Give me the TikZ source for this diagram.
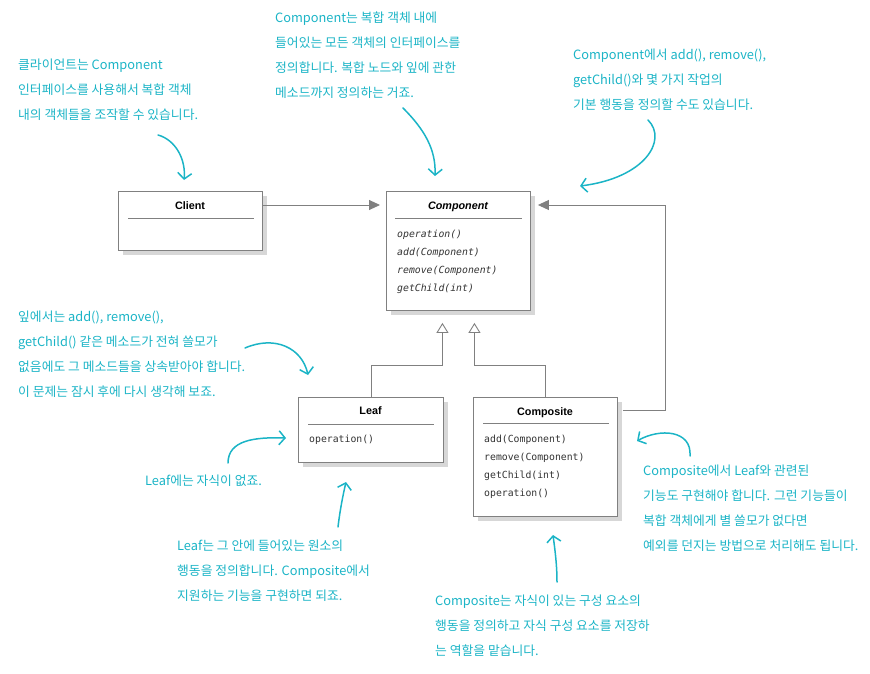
\documentclass[tikz,border=0pt]{standalone}
\usepackage{fontspec}
\newfontfamily\krfont{Noto Sans CJK KR}
\newfontfamily\umlsans{Liberation Sans}
\newfontfamily\umlmono{DejaVu Sans Mono}
\usetikzlibrary{arrows.meta,calc,shadows}
\definecolor{teal1}{RGB}{27,180,198}
\definecolor{umlgray}{RGB}{128,128,128}
\definecolor{shadowgray}{RGB}{215,215,215}
\begin{document}
\begin{tikzpicture}[x=1pt,y=-1pt,
  umlbox/.style={draw=umlgray, line width=0.9pt, fill=white, anchor=north west, inner sep=0pt,
     general shadow={fill=shadowgray, shadow xshift=5pt, shadow yshift=-5pt}},
  umltitle/.style={anchor=base, inner sep=0pt, font=\umlsans\bfseries\fontsize{10.8}{13}\selectfont},
  methods/.style={anchor=base west, inner sep=0pt, align=left, text=black!80, font=\umlmono\fontsize{9.8}{18}\selectfont},
  sep/.style={draw=umlgray, line width=0.8pt},
  note/.style={anchor=base west, inner sep=0pt, align=left, text=teal1, font=\krfont\fontsize{12.8}{25}\selectfont},
  notearrow/.style={draw=teal1, line width=1.5pt, line cap=round, -{Straight Barb[length=6pt,width=14pt]}},
  assoc/.style={draw=umlgray, line width=0.9pt, -{Triangle[length=11pt,width=10pt,fill=umlgray]}},
  inh/.style={draw=umlgray, line width=0.9pt, -{Triangle[open,length=10pt,width=12pt,fill=white]}}]
\useasboundingbox (0,0) rectangle (870,674);

% UML boxes
\node[umlbox, minimum width=144pt, minimum height=59pt] (client) at (118,191) {};
\node[umlbox, minimum width=144pt, minimum height=119pt] (comp) at (386,191) {};
\node[umlbox, minimum width=145pt, minimum height=65pt] (leaf) at (298,397) {};
\node[umlbox, minimum width=144pt, minimum height=119pt] (compo) at (473,397) {};

% titles
\node[umltitle] (clientT) at (190,209) {Client};
\node[umltitle, font=\umlsans\bfseries\itshape\fontsize{10.8}{13}\selectfont] (compT) at (458,209) {Component};
\node[umltitle] (leafT) at (370.5,414) {Leaf};
\node[umltitle] (compoT) at (545,415) {Composite};

% separators
\draw[sep] ($(client.north west)+(10,27)$) -- ($(client.north east)+(-9,27)$);
\draw[sep] ($(comp.north west)+(9,27)$) -- ($(comp.north east)+(-9,27)$);
\draw[sep] ($(leaf.north west)+(10,27)$) -- ($(leaf.north east)+(-10,27)$);
\draw[sep] ($(compo.north west)+(10,26)$) -- ($(compo.north east)+(-9,26)$);

% methods (anchor = baseline of the last line)
\node[methods, font=\umlmono\itshape\fontsize{9.8}{18}\selectfont] (compM) at (397,291) {operation()\\add(Component)\\remove(Component)\\getChild(int)};
\node[methods] (leafM) at (309,442) {operation()};
\node[methods] (compoM) at (484,496) {add(Component)\\remove(Component)\\getChild(int)\\operation()};

% UML connectors
\draw[assoc] ($(client.north east)+(0,14)$) -- ($(comp.north west)+(-6,14)$);
\draw[assoc] ($(compo.north east)+(5,13)$) -| ($(comp.north east)+(135,14)$) -- ($(comp.north east)+(7,14)$);
\draw[inh] (leaf.north) |- ($(comp.south)+(-16,55)$) -- ($(comp.south)+(-16,12)$);
\draw[inh] (compo.north) |- ($(comp.south)+(16,55)$) -- ($(comp.south)+(16,12)$);

% notes (anchor = baseline of the last line)
\node[note] (nClient) at (18,120) {클라이언트는 Component\\인터페이스를 사용해서 복합 객체\\내의 객체들을 조작할 수 있습니다.};
\node[note] (nComp) at (275,98) {Component는 복합 객체 내에\\들어있는 모든 객체의 인터페이스를\\정의합니다. 복합 노드와 잎에 관한\\메소드까지 정의하는 거죠.};
\node[note] (nDefault) at (573,110) {Component에서 add(), remove(),\\getChild()와 몇 가지 작업의\\기본 행동을 정의할 수도 있습니다.};
\node[note] (nLeafInh) at (18,396) {잎에서는 add(), remove(),\\getChild() 같은 메소드가 전혀 쓸모가\\없음에도 그 메소드들을 상속받아야 합니다.\\이 문제는 잠시 후에 다시 생각해 보죠.};
\node[note] (nLeafNo) at (145,485) {Leaf에는 자식이 없죠.};
\node[note] (nLeaf) at (177,600) {Leaf는 그 안에 들어있는 원소의\\행동을 정의합니다. Composite에서\\지원하는 기능을 구현하면 되죠.};
\node[note] (nCompo) at (435,655) {Composite는 자식이 있는 구성 요소의\\행동을 정의하고 자식 구성 요소를 저장하\\는 역할을 맡습니다.};
\node[note] (nCompoR) at (643,550) {Composite에서 Leaf와 관련된\\기능도 구현해야 합니다. 그런 기능들이\\복합 객체에게 별 쓸모가 없다면\\예외를 던지는 방법으로 처리해도 됩니다.};

% note arrows
\coordinate (a1s) at (158,135); \coordinate (a1e) at (184,180);
\draw[notearrow] (a1s) .. controls (176,140) and (186,160) .. (a1e);
\coordinate (a2s) at (403,108); \coordinate (a2e) at (435,176);
\draw[notearrow] (a2s) .. controls (425,130) and (436,150) .. (a2e);
\coordinate (a3s) at (648,120); \coordinate (a3e) at (580,186);
\draw[notearrow] (a3s) .. controls (668,140) and (645,178) .. (a3e);
\coordinate (a4s) at (245,348); \coordinate (a4e) at (308,375);
\draw[notearrow] (a4s) .. controls (275,335) and (302,348) .. (a4e);
\coordinate (a5s) at (228,463); \coordinate (a5e) at (286,438);
\draw[notearrow] (a5s) .. controls (228,440) and (255,437) .. (a5e);
\coordinate (a6s) at (338,527); \coordinate (a6e) at (346,482);
\draw[notearrow] (a6s) .. controls (340,510) and (343,495) .. (a6e);
\coordinate (a7s) at (557,582); \coordinate (a7e) at (553,535);
\draw[notearrow] (a7s) .. controls (557,565) and (555,550) .. (a7e);
\coordinate (a8s) at (690,456); \coordinate (a8e) at (637,441);
\draw[notearrow] (a8s) .. controls (692,430) and (660,428) .. (a8e);
\end{tikzpicture}
\end{document}
